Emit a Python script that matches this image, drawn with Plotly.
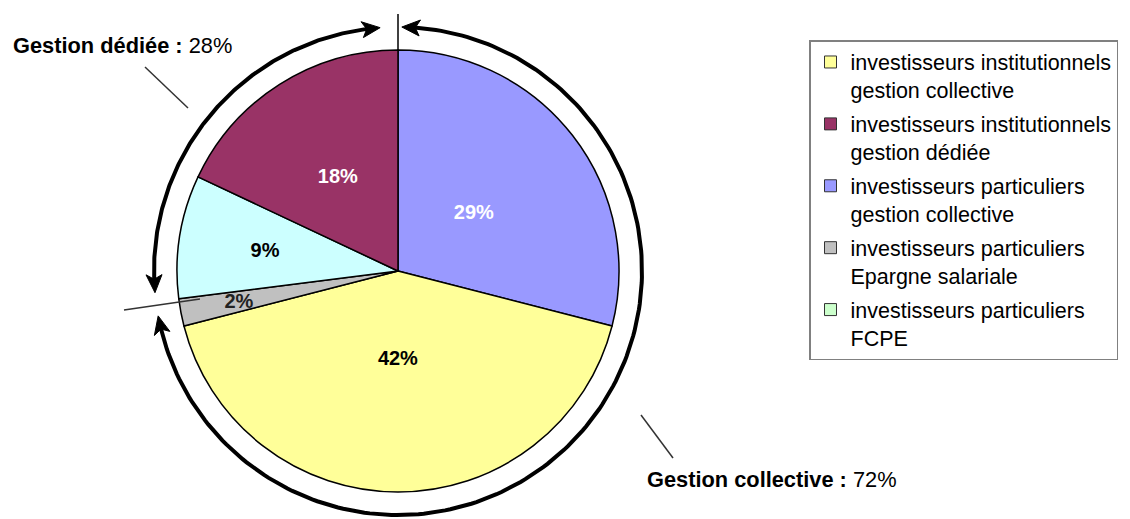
import numpy as np
import plotly.graph_objects as go

# ---- data ----
slice_labels = [
    "investisseurs particuliers gestion collective",
    "investisseurs institutionnels gestion collective",
    "investisseurs particuliers Epargne salariale",
    "investisseurs particuliers FCPE",
    "investisseurs institutionnels gestion dédiée",
]
slice_values = [29, 42, 2, 9, 18]
slice_colors = ["#9999FF", "#FFFF99", "#C0C0C0", "#CCFFFF", "#993366"]
slice_text_colors = ["white", "black", "#222222", "black", "white"]

legend_labels = [
    "investisseurs institutionnels<br>gestion collective",
    "investisseurs institutionnels<br>gestion dédiée",
    "investisseurs particuliers<br>gestion collective",
    "investisseurs particuliers<br>Epargne salariale",
    "investisseurs particuliers<br>FCPE",
]
legend_colors = ["#FFFF99", "#993366", "#9999FF", "#C0C0C0", "#CCFFCC"]

group_labels = ["<b>Gestion dédiée :</b> 28%", "<b>Gestion collective :</b> 72%"]

W, H = 1130, 519
FONT = "Liberation Sans, Arial, sans-serif"

# pie geometry (pixels)
cx, cy, r = 398, 271, 221
r_text = 172          # radius of the (invisible) pie used only to place the labels
R_arc = 244


def dom(rad):
    return dict(x=[(cx - rad) / W, (cx + rad) / W],
                y=[1 - (cy + rad) / H, 1 - (cy - rad) / H])


fig = go.Figure()

fig.add_trace(go.Pie(
    labels=slice_labels, values=slice_values, sort=False,
    direction="clockwise", rotation=0,
    marker=dict(colors=slice_colors, line=dict(color="black", width=1.5)),
    textinfo="none", showlegend=False, hoverinfo="label+percent",
    domain=dom(r),
))

# label layer: same data, transparent wedges, smaller radius to pull labels inward
fig.add_trace(go.Pie(
    labels=slice_labels, values=slice_values, sort=False,
    direction="clockwise", rotation=0,
    marker=dict(colors=["rgba(0,0,0,0)"] * len(slice_values), line=dict(width=0)),
    texttemplate="<b>%{percent:.0%}</b>",
    textposition="inside", insidetextorientation="horizontal",
    textfont=dict(family=FONT, size=20, color=slice_text_colors),
    showlegend=False, hoverinfo="skip",
    domain=dom(r_text),
))


def pt(theta_deg, rad):
    t = np.radians(theta_deg)
    return cx + rad * np.sin(t), cy - rad * np.cos(t)


def arc_with_heads(t0, t1, L=18, Wd=16):
    # double headed arc from t0 to t1 (degrees, clockwise from 12 o'clock), t0 < t1
    dL = np.degrees(L / R_arc)
    th = np.linspace(t0 + dL * 0.7, t1 - dL * 0.7, 200)
    xs, ys = pt(th, R_arc)
    fig.add_trace(go.Scatter(x=xs, y=ys, mode="lines", line=dict(color="black", width=4),
                             showlegend=False, hoverinfo="skip"))
    for tip, sgn in ((t0, 1), (t1, -1)):
        base = tip + sgn * dL
        notch = tip + sgn * dL * 0.75
        tx, ty = pt(tip, R_arc)
        b1x, b1y = pt(base, R_arc + Wd / 2)
        nx, ny = pt(notch, R_arc)
        b2x, b2y = pt(base, R_arc - Wd / 2)
        fig.add_trace(go.Scatter(x=[tx, b1x, nx, b2x, tx], y=[ty, b1y, ny, b2y, ty],
                                 mode="lines", fill="toself", fillcolor="black",
                                 line=dict(color="black", width=1),
                                 showlegend=False, hoverinfo="skip"))


# Gestion dédiée arc (left/top) and Gestion collective arc (right/bottom)
arc_with_heads(264.9, 355.8)
arc_with_heads(0.9, 259.4)

# legend entries
for i, (lab, col) in enumerate(zip(legend_labels, legend_colors)):
    fig.add_trace(go.Scatter(x=[None], y=[None], mode="markers", name=lab,
                             legendgroup=f"g{i}",
                             marker=dict(symbol="square", size=12, color=col,
                                         line=dict(color="#333333", width=1))))

shapes = [
    dict(type="line", xref="x", yref="y", x0=398, y0=14, x1=398, y1=50,
         line=dict(color="black", width=1.5)),
    dict(type="line", xref="x", yref="y", x0=124, y0=310, x1=200, y1=299,
         line=dict(color="#333333", width=1.5)),
    dict(type="line", xref="x", yref="y", x0=145, y0=67, x1=188, y1=108,
         line=dict(color="#333333", width=1.5)),
    dict(type="line", xref="x", yref="y", x0=641, y0=415, x1=673, y1=458,
         line=dict(color="#333333", width=1.5)),
]

annotations = [
    dict(x=11, y=45, xref="x", yref="y", text=group_labels[0], showarrow=False,
         xanchor="left", yanchor="middle", font=dict(family=FONT, size=21.8, color="black")),
    dict(x=645, y=479, xref="x", yref="y", text=group_labels[1], showarrow=False,
         xanchor="left", yanchor="middle", font=dict(family=FONT, size=21.8, color="black")),
]

fig.update_layout(
    width=W, height=H,
    margin=dict(l=0, r=0, t=0, b=0),
    paper_bgcolor="white", plot_bgcolor="white",
    xaxis=dict(range=[0, W], visible=False, domain=[0, 1], fixedrange=True),
    yaxis=dict(range=[H, 0], visible=False, domain=[0, 1], fixedrange=True),
    shapes=shapes,
    annotations=annotations,
    uniformtext=dict(minsize=20, mode="show"),
    showlegend=True,
    legend=dict(x=809 / W, y=1 - 40 / H, xanchor="left", yanchor="top",
                bgcolor="white", bordercolor="#808080", borderwidth=1.5,
                font=dict(family=FONT, size=21.5, color="black"),
                valign="top", tracegroupgap=3, itemwidth=30),
)

fig.write_html("out.html", config={"displayModeBar": False},
               post_script="document.body.style.margin='0';")
